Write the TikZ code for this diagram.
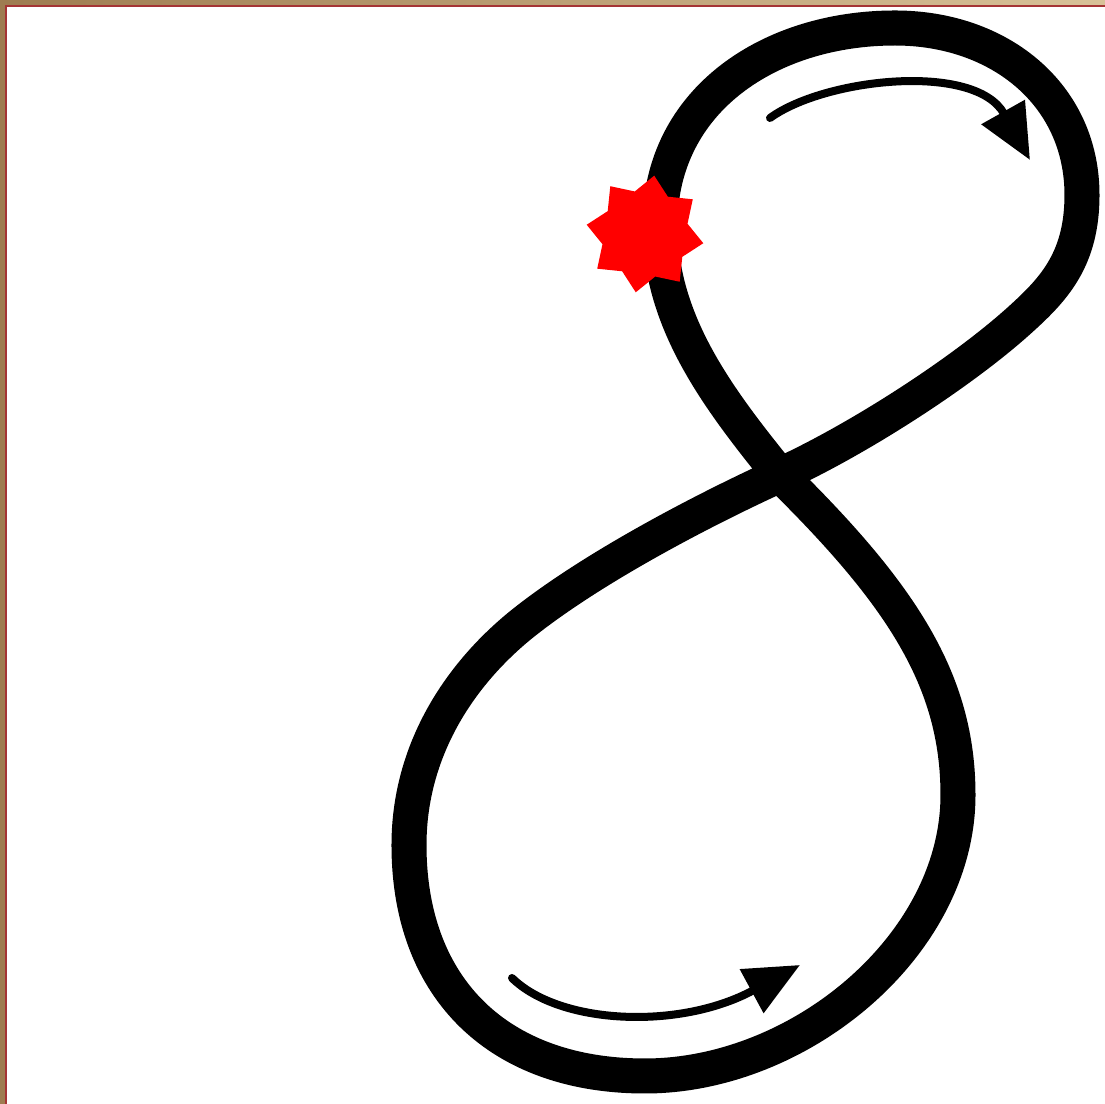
\documentclass[tikz,border=0pt]{standalone}
\usetikzlibrary{arrows.meta,shapes.geometric}
\definecolor{framedark}{RGB}{158,124,80}
\definecolor{framelight}{RGB}{216,194,152}
\definecolor{frameline}{RGB}{165,52,52}

\begin{document}
\begin{tikzpicture}[
    x=0.01cm, y=-0.01cm,
    loop/.style={line width=0.35cm, line join=round, line cap=round},
    arrow/.style={-{Triangle[length=0.55cm, width=0.48cm]}, line width=0.08cm, line cap=round},
    spark/.style={star, star points=8, star point ratio=1.35, minimum size=1.18cm, inner sep=0pt, fill=red, shape border rotate=-9}
]
\useasboundingbox (0,0) rectangle (1105,1104);
\fill[white] (0,0) rectangle (1105,1104);
\shade[left color=framedark, right color=framelight] (0,0) rectangle (1105,5);
\fill[framedark] (0,0) rectangle (5,1104);
\draw[frameline, line width=0.02cm] (6,1104) -- (6,6) -- (1105,6);

\coordinate (cross) at (780,475);
\coordinate (topleft) at (660,225);
\coordinate (toptop) at (895,28);
\coordinate (topright) at (1082,195);
\coordinate (topbend) at (1022,318);
\coordinate (lowbend) at (522,624);
\coordinate (lowleft) at (409,845);
\coordinate (lowbottom) at (645,1076);
\coordinate (lowright) at (958,795);

\draw[loop] (cross)
    .. controls (715,395) and (660,320) .. (topleft)
    .. controls (660,100) and (770,28) .. (toptop)
    .. controls (1000,28) and (1082,95) .. (topright)
    .. controls (1082,258) and (1055,288) .. (topbend)
    .. controls (963,372) and (857,440) .. (cross)
    .. controls (703,510) and (592,568) .. (lowbend)
    .. controls (460,674) and (409,750) .. (lowleft)
    .. controls (409,990) and (500,1076) .. (lowbottom)
    .. controls (800,1076) and (958,945) .. (lowright)
    .. controls (958,680) and (901,594) .. (cross) -- cycle;

\coordinate (upstart) at (770,118);
\coordinate (upend) at (1030,160);
\coordinate (lowstart) at (512,978);
\coordinate (lowend) at (800,965);
\draw[arrow] (upstart) .. controls (825,78) and (975,62) .. (upend);
\draw[arrow] (lowstart) .. controls (560,1025) and (680,1030) .. (lowend);

\node[spark] (spark) at (645,234) {};
\end{tikzpicture}
\end{document}
